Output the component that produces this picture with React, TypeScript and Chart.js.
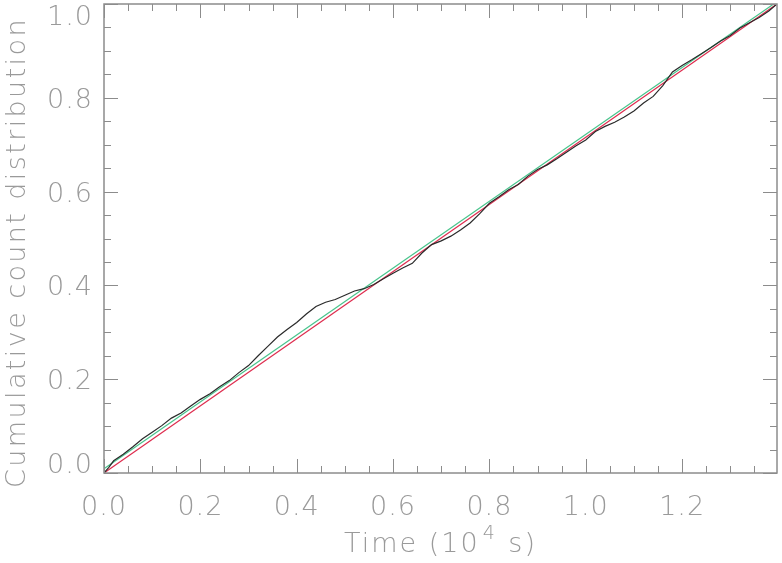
import React, { useEffect, useRef } from "react";
import { Chart, registerables } from "chart.js";

Chart.register(...registerables);

// Time in units of 10^4 s
const timeValues = [
  0.0, 0.01, 0.02, 0.04, 0.06, 0.08, 0.1, 0.12, 0.14, 0.16, 0.18, 0.2, 0.22, 0.24, 0.26, 0.28, 0.3,
  0.32, 0.34, 0.36, 0.38, 0.4, 0.42, 0.44, 0.46, 0.48, 0.5, 0.52, 0.54, 0.56, 0.58, 0.6, 0.62,
  0.64, 0.66, 0.68, 0.7, 0.72, 0.74, 0.76, 0.78, 0.8, 0.82, 0.84, 0.86, 0.88, 0.9, 0.92, 0.94,
  0.96, 0.98, 1.0, 1.02, 1.04, 1.06, 1.08, 1.1, 1.12, 1.14, 1.16, 1.18, 1.2, 1.22, 1.24, 1.26,
  1.28, 1.3, 1.32, 1.34, 1.36, 1.38, 1.397,
];
const cumulativeCounts = [
  0.0, 0.012, 0.026, 0.04, 0.056, 0.073, 0.087, 0.101, 0.117, 0.128, 0.143, 0.157, 0.169, 0.184,
  0.197, 0.214, 0.229, 0.25, 0.27, 0.29, 0.306, 0.321, 0.339, 0.355, 0.364, 0.37, 0.379, 0.388,
  0.393, 0.402, 0.414, 0.426, 0.437, 0.447, 0.469, 0.487, 0.495, 0.505, 0.518, 0.533, 0.553,
  0.575, 0.589, 0.604, 0.615, 0.633, 0.647, 0.657, 0.67, 0.684, 0.698, 0.71, 0.728, 0.739,
  0.748, 0.759, 0.772, 0.789, 0.803, 0.826, 0.855, 0.869, 0.881, 0.894, 0.907, 0.921, 0.933,
  0.949, 0.96, 0.971, 0.985, 1.0,
];
// Green model line (endpoints)
const greenTimes = [0.0, 1.39];
const greenValues = [0.009, 1.0];
// Red uniform line (endpoints)
const redTimes = [0.0, 1.397];
const redValues = [0.0, 1.0];

const xMin = 0;
const xMax = 1.397;
const yMin = 0;
const yMax = 1.0;
const xMajorTicks = [0.0, 0.2, 0.4, 0.6, 0.8, 1.0, 1.2];
const yMajorTicks = [0.0, 0.2, 0.4, 0.6, 0.8, 1.0];
const minorStep = 0.05;
const xTitleMain = "Time (10";
const xTitleSup = "4";
const xTitleEnd = " s)";
const yTitle = "Cumulative count distribution";

const AXIS_COLOR = "#8c8c8c";
const TEXT_COLOR = "#9a9a9a";
const FONT_FAMILY = "'DejaVu Sans', 'Noto Sans', sans-serif";
const FONT = `200 27px ${FONT_FAMILY}`;

const idlAxesPlugin = {
  id: "idlAxes",
  afterDraw(chart: any) {
    const ctx = chart.ctx as any;
    const area = chart.chartArea;
    const xs = chart.scales.x;
    const ys = chart.scales.y;
    ctx.save();
    ctx.strokeStyle = AXIS_COLOR;
    ctx.lineWidth = 1.5;
    ctx.strokeRect(area.left, area.top, area.right - area.left, area.bottom - area.top);

    const isMajor = (v: number, majors: number[]) => majors.some((m) => Math.abs(m - v) < 1e-6);
    ctx.lineWidth = 1;
    ctx.beginPath();
    for (let i = 0; i * minorStep <= xMax + 1e-9; i++) {
      const v = i * minorStep;
      const px = Math.round(xs.getPixelForValue(v)) + 0.5;
      const len = isMajor(v, xMajorTicks) ? 14 : 7;
      ctx.moveTo(px, area.bottom);
      ctx.lineTo(px, area.bottom - len);
      ctx.moveTo(px, area.top);
      ctx.lineTo(px, area.top + len);
    }
    for (let i = 0; i * minorStep <= yMax + 1e-9; i++) {
      const v = i * minorStep;
      const py = Math.round(ys.getPixelForValue(v)) + 0.5;
      const len = isMajor(v, yMajorTicks) ? 14 : 7;
      ctx.moveTo(area.left, py);
      ctx.lineTo(area.left + len, py);
      ctx.moveTo(area.right, py);
      ctx.lineTo(area.right - len, py);
    }
    ctx.stroke();

    ctx.fillStyle = TEXT_COLOR;
    ctx.font = FONT;
    ctx.textBaseline = "alphabetic";
    ctx.letterSpacing = "1px";
    ctx.textAlign = "center";
    for (const v of xMajorTicks) {
      ctx.fillText(v.toFixed(1), xs.getPixelForValue(v), 515);
    }
    ctx.textAlign = "right";
    for (const v of yMajorTicks) {
      let base = ys.getPixelForValue(v) + 10;
      base = Math.max(area.top + 21, Math.min(area.bottom, base));
      ctx.fillText(v.toFixed(1), 93, base);
    }

    // X title with superscript
    ctx.letterSpacing = "2px";
    ctx.textAlign = "left";
    const supFont = `200 19px ${FONT_FAMILY}`;
    const w1 = ctx.measureText(xTitleMain).width;
    const w3 = ctx.measureText(xTitleEnd).width;
    ctx.font = supFont;
    const w2 = ctx.measureText(xTitleSup).width + 4;
    const total = w1 + w2 + w3;
    const cx = (area.left + area.right) / 2;
    let sx = cx - total / 2;
    ctx.font = FONT;
    ctx.fillText(xTitleMain, sx, 552);
    sx += w1;
    ctx.font = supFont;
    ctx.fillText(xTitleSup, sx + 3, 539);
    sx += w2;
    ctx.font = FONT;
    ctx.fillText(xTitleEnd, sx, 552);

    // Y title
    ctx.letterSpacing = "2.4px";
    ctx.save();
    ctx.translate(25, (area.top + area.bottom) / 2 + 14);
    ctx.rotate(-Math.PI / 2);
    ctx.textAlign = "center";
    ctx.fillText(yTitle, 0, 0);
    ctx.restore();

    ctx.restore();
  },
};

export default function App() {
  const canvasRef = useRef<HTMLCanvasElement | null>(null);

  useEffect(() => {
    if (!canvasRef.current) return;
    const toPoints = (xsArr: number[], ysArr: number[]) =>
      xsArr.map((x, i) => ({ x, y: ysArr[i] }));
    const chart = new Chart(canvasRef.current, {
      type: "line",
      data: {
        datasets: [
          {
            label: "Cumulative",
            data: toPoints(timeValues, cumulativeCounts),
            borderColor: "#2a2a2a",
            borderWidth: 1.2,
            pointRadius: 0,
            tension: 0,
          },
          {
            label: "Model",
            data: toPoints(greenTimes, greenValues),
            borderColor: "rgb(72,196,140)",
            borderWidth: 1.2,
            pointRadius: 0,
          },
          {
            label: "Uniform",
            data: toPoints(redTimes, redValues),
            borderColor: "rgb(222,44,78)",
            borderWidth: 1.2,
            pointRadius: 0,
          },
        ],
      },
      options: {
        animation: false,
        responsive: false,
        maintainAspectRatio: false,
        devicePixelRatio: 1,
        layout: { padding: { left: 104, top: 4, right: 5, bottom: 90 } },
        plugins: { legend: { display: false }, tooltip: { enabled: false } },
        scales: {
          x: { type: "linear", min: xMin, max: xMax, display: false },
          y: { type: "linear", min: yMin, max: yMax, display: false },
        },
      },
      plugins: [idlAxesPlugin],
    });
    return () => chart.destroy();
  }, []);

  return (
    <div style={{ position: "fixed", left: 0, top: 0, width: 782, height: 563, background: "#fff" }}>
      <canvas ref={canvasRef} width={782} height={563} style={{ width: 782, height: 563, display: "block" }} />
    </div>
  );
}
